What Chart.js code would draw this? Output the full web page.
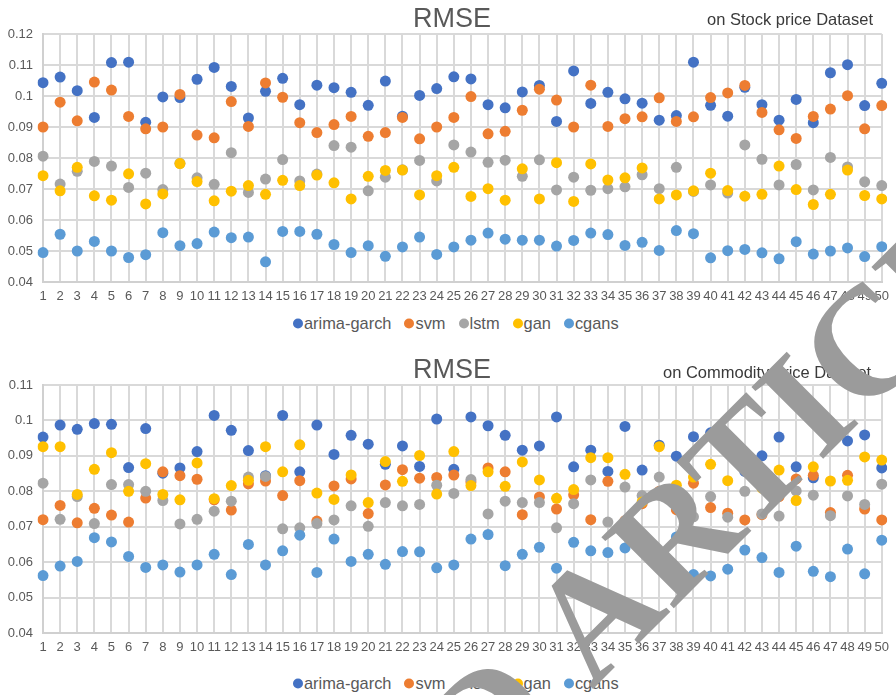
<!DOCTYPE html>
<html>
<head>
<meta charset="utf-8">
<script src="https://cdn.jsdelivr.net/npm/chart.js@4.4.0/dist/chart.umd.min.js"></script>
<style>
  html, body { margin: 0; padding: 0; background: #fff; }
  body { width: 896px; height: 695px; position: relative; overflow: hidden; font-family: "Liberation Sans", Arial, sans-serif; }
  .panel { position: absolute; left: 0; width: 896px; height: 310px; }
  .title { position: absolute; font-size: 27px; color: #595959; transform: translate(-50%, -50%); white-space: nowrap; }
  .subtitle { position: absolute; font-size: 16.5px; color: #3a3a3a; transform: translateY(-50%); white-space: nowrap; }
  .legend { position: absolute; left: 293px; display: flex; align-items: center; transform: translateY(-50%); font-size: 16.4px; color: #595959; white-space: nowrap; }
  .legend .item { display: flex; align-items: center; margin-right: 13px; }
  .legend .dot { width: 10px; height: 10px; border-radius: 50%; margin-right: 1px; }
  #wm { position: absolute; left: 0; top: 0; white-space: nowrap; font-family: "Liberation Serif", "Times New Roman", serif; font-weight: bold; font-size: 155px; color: #9b9b9b; line-height: 1; }
  #wm .mark { display: inline-block; width: 0; height: 0; }
</style>
</head>
<body>

<div class="panel" style="top:0"><canvas id="c1" width="896" height="310"></canvas></div>
<div class="title" style="left:452px; top:18px">RMSE</div>
<div class="subtitle" style="left:707px; top:19px">on Stock price Dataset</div>
<div class="legend" id="lg1" style="top:323px"></div>

<div class="panel" style="top:351px"><canvas id="c2" width="896" height="310"></canvas></div>
<div class="title" style="left:452px; top:369px">RMSE</div>
<div class="subtitle" style="left:663px; top:372px">on Commodity price Dataset</div>
<div class="legend" id="lg2" style="top:683px"></div>

<div id="wm">RETRACTED <span class="mark" id="wmMark"></span>ARTICLE</div>

<script>
// x categories (run index)
const categories = Array.from({ length: 50 }, (_, i) => String(i + 1));

const seriesNames = ['arima-garch', 'svm', 'lstm', 'gan', 'cgans'];
const seriesColors = ['#4472C4', '#ED7D31', '#A5A5A5', '#FFC000', '#5B9BD5'];

// RMSE on the stock price dataset
const stockArima = [0.1043,0.1061,0.1017,0.0931,0.1108,0.1109,0.0915,0.0997,0.0995,0.1054,0.1092,0.1031,0.0929,0.1015,0.1057,0.0972,0.1035,0.1027,0.1012,0.0970,0.1048,0.0935,0.1002,0.1024,0.1062,0.1055,0.0972,0.0962,0.1013,0.1034,0.0918,0.1081,0.0976,0.1012,0.0991,0.0977,0.0922,0.0937,0.1109,0.0970,0.0935,0.1028,0.0972,0.0922,0.0989,0.0914,0.1075,0.1101,0.0969,0.1041];
const stockSvm = [0.0900,0.0980,0.0920,0.1045,0.1019,0.0934,0.0894,0.0900,0.1005,0.0874,0.0865,0.0982,0.0902,0.1042,0.0996,0.0914,0.0882,0.0908,0.0934,0.0870,0.0882,0.0931,0.0862,0.0900,0.0931,0.0998,0.0878,0.0886,0.0954,0.1022,0.0987,0.0900,0.1035,0.0902,0.0927,0.0933,0.0994,0.0918,0.0933,0.0995,0.1010,0.1034,0.0947,0.0891,0.0863,0.0934,0.0958,0.1001,0.0894,0.0969];
const stockLstm = [0.0806,0.0716,0.0757,0.0789,0.0774,0.0705,0.0751,0.0698,0.0783,0.0736,0.0715,0.0817,0.0689,0.0732,0.0795,0.0726,0.0748,0.0840,0.0835,0.0694,0.0738,0.0762,0.0792,0.0726,0.0842,0.0819,0.0786,0.0793,0.0741,0.0794,0.0697,0.0738,0.0696,0.0701,0.0707,0.0746,0.0701,0.0770,0.0692,0.0713,0.0687,0.0842,0.0796,0.0713,0.0779,0.0697,0.0802,0.0771,0.0723,0.0711];
const stockGan = [0.0743,0.0694,0.0770,0.0678,0.0664,0.0749,0.0652,0.0684,0.0782,0.0724,0.0662,0.0693,0.0711,0.0683,0.0728,0.0711,0.0745,0.0720,0.0668,0.0741,0.0760,0.0761,0.0681,0.0743,0.0770,0.0676,0.0701,0.0664,0.0765,0.0668,0.0785,0.0660,0.0781,0.0729,0.0736,0.0768,0.0668,0.0681,0.0694,0.0751,0.0695,0.0677,0.0683,0.0774,0.0698,0.0650,0.0683,0.0761,0.0679,0.0668];
const stockCgans = [0.0495,0.0554,0.0500,0.0531,0.0500,0.0479,0.0488,0.0559,0.0517,0.0524,0.0561,0.0543,0.0545,0.0465,0.0563,0.0563,0.0554,0.0521,0.0495,0.0517,0.0483,0.0513,0.0545,0.0489,0.0513,0.0535,0.0558,0.0538,0.0535,0.0535,0.0516,0.0534,0.0558,0.0553,0.0518,0.0528,0.0502,0.0566,0.0556,0.0478,0.0501,0.0505,0.0494,0.0475,0.0530,0.0490,0.0500,0.0510,0.0482,0.0514];

// RMSE on the commodity price dataset
const commodityArima = [0.0953,0.0987,0.0975,0.0991,0.0989,0.0867,0.0977,0.0851,0.0866,0.0912,0.1014,0.0972,0.0915,0.0844,0.1014,0.0855,0.0987,0.0904,0.0958,0.0933,0.0876,0.0928,0.0870,0.1004,0.0862,0.1010,0.0985,0.0958,0.0916,0.0928,0.1010,0.0869,0.0916,0.0856,0.0983,0.0860,0.0930,0.0899,0.0954,0.0965,0.0942,0.0856,0.0900,0.0953,0.0869,0.0838,0.0956,0.0942,0.0959,0.0866];
const commoditySvm = [0.0720,0.0760,0.0711,0.0752,0.0733,0.0713,0.0781,0.0855,0.0844,0.0834,0.0776,0.0747,0.0821,0.0829,0.0788,0.0830,0.0716,0.0815,0.0835,0.0737,0.0818,0.0861,0.0837,0.0839,0.0846,0.0826,0.0866,0.0855,0.0734,0.0784,0.0750,0.0790,0.0720,0.0828,0.0717,0.0765,0.0800,0.0748,0.0823,0.0754,0.0738,0.0719,0.0734,0.0785,0.0835,0.0845,0.0740,0.0845,0.0750,0.0719];
const commodityLstm = [0.0823,0.0721,0.0785,0.0709,0.0819,0.0819,0.0800,0.0774,0.0708,0.0721,0.0744,0.0772,0.0840,0.0842,0.0694,0.0697,0.0709,0.0719,0.0759,0.0701,0.0768,0.0759,0.0763,0.0817,0.0794,0.0833,0.0736,0.0772,0.0768,0.0768,0.0697,0.0765,0.0832,0.0713,0.0812,0.0788,0.0840,0.0790,0.0728,0.0785,0.0727,0.0800,0.0736,0.0730,0.0801,0.0789,0.0731,0.0787,0.0763,0.0820];
const commodityGan = [0.0926,0.0926,0.0791,0.0862,0.0909,0.0800,0.0878,0.0791,0.0776,0.0880,0.0779,0.0816,0.0831,0.0926,0.0855,0.0931,0.0795,0.0777,0.0846,0.0768,0.0884,0.0828,0.0901,0.0792,0.0912,0.0816,0.0855,0.0814,0.0883,0.0832,0.0780,0.0805,0.0895,0.0895,0.0848,0.0770,0.0926,0.0817,0.0840,0.0876,0.0830,0.0880,0.0809,0.0860,0.0774,0.0869,0.0829,0.0831,0.0897,0.0888];
const commodityCgans = [0.0562,0.0589,0.0602,0.0669,0.0657,0.0616,0.0585,0.0592,0.0572,0.0592,0.0622,0.0565,0.0650,0.0592,0.0632,0.0676,0.0571,0.0665,0.0602,0.0622,0.0594,0.0630,0.0629,0.0584,0.0592,0.0665,0.0678,0.0590,0.0622,0.0642,0.0583,0.0656,0.0632,0.0627,0.0640,0.0650,0.0615,0.0671,0.0565,0.0561,0.0580,0.0634,0.0613,0.0571,0.0645,0.0574,0.0559,0.0637,0.0567,0.0662];

// y-axis tick labels
const stockYTicks = ['0.04', '0.05', '0.06', '0.07', '0.08', '0.09', '0.1', '0.11', '0.12'];
const commodityYTicks = ['0.04', '0.05', '0.06', '0.07', '0.08', '0.09', '0.1', '0.11'];

const tickFont = { family: "'Liberation Sans', Arial, sans-serif", size: 13 };
const gridColor = '#d9d9d9';

function makeChart(canvasId, seriesValues, yTicks) {
  const yMin = parseFloat(yTicks[0]);
  const yMax = parseFloat(yTicks[yTicks.length - 1]);
  const datasets = seriesValues.map((vals, i) => ({
    label: seriesNames[i],
    data: vals,
    showLine: false,
    backgroundColor: seriesColors[i],
    borderColor: seriesColors[i],
    pointRadius: 5.5,
    pointHoverRadius: 5.5,
    pointBorderWidth: 0,
    order: seriesValues.length - i
  }));
  return new Chart(document.getElementById(canvasId), {
    type: 'line',
    data: { labels: categories, datasets },
    options: {
      responsive: false,
      animation: false,
      devicePixelRatio: 1,
      events: [],
      layout: { padding: { top: 34, right: 10, bottom: 0, left: 0 } },
      plugins: { legend: { display: false }, title: { display: false }, tooltip: { enabled: false } },
      scales: {
        x: {
          type: 'category',
          offset: false,
          grid: { color: gridColor, lineWidth: 2, drawTicks: false, offset: false },
          border: { color: '#d0d0d0', width: 2 },
          ticks: { autoSkip: false, maxRotation: 0, padding: 7, color: '#595959', font: tickFont },
          afterFit: s => { s.height = 28; }
        },
        y: {
          min: yMin,
          max: yMax,
          grid: { color: gridColor, lineWidth: 2, drawTicks: false },
          border: { color: '#d0d0d0', width: 2 },
          ticks: {
            stepSize: 0.01,
            padding: 10,
            color: '#595959',
            font: tickFont,
            callback: v => {
              const idx = Math.round((v - yMin) / 0.01);
              return yTicks[idx] !== undefined ? yTicks[idx] : '';
            }
          },
          afterFit: s => { s.width = 43; }
        }
      }
    }
  });
}

makeChart('c1', [stockArima, stockSvm, stockLstm, stockGan, stockCgans], stockYTicks);
makeChart('c2', [commodityArima, commoditySvm, commodityLstm, commodityGan, commodityCgans], commodityYTicks);

// legends
['lg1', 'lg2'].forEach(id => {
  const el = document.getElementById(id);
  seriesNames.forEach((name, i) => {
    const item = document.createElement('div');
    item.className = 'item';
    const dot = document.createElement('span');
    dot.className = 'dot';
    dot.style.background = seriesColors[i];
    item.appendChild(dot);
    item.appendChild(document.createTextNode(name));
    el.appendChild(item);
  });
});

// diagonal stamp: place the start of "ARTICLE" on its baseline at (ax, ay)
(function placeStamp() {
  const wm = document.getElementById('wm');
  const mark = document.getElementById('wmMark');
  const bx = mark.offsetLeft;
  const by = mark.offsetTop;
  const ax = 592, ay = 690, angle = -45;
  wm.style.transformOrigin = bx + 'px ' + by + 'px';
  wm.style.transform = 'translate(' + (ax - bx) + 'px,' + (ay - by) + 'px) rotate(' + angle + 'deg)';
})();
</script>
</body>
</html>
